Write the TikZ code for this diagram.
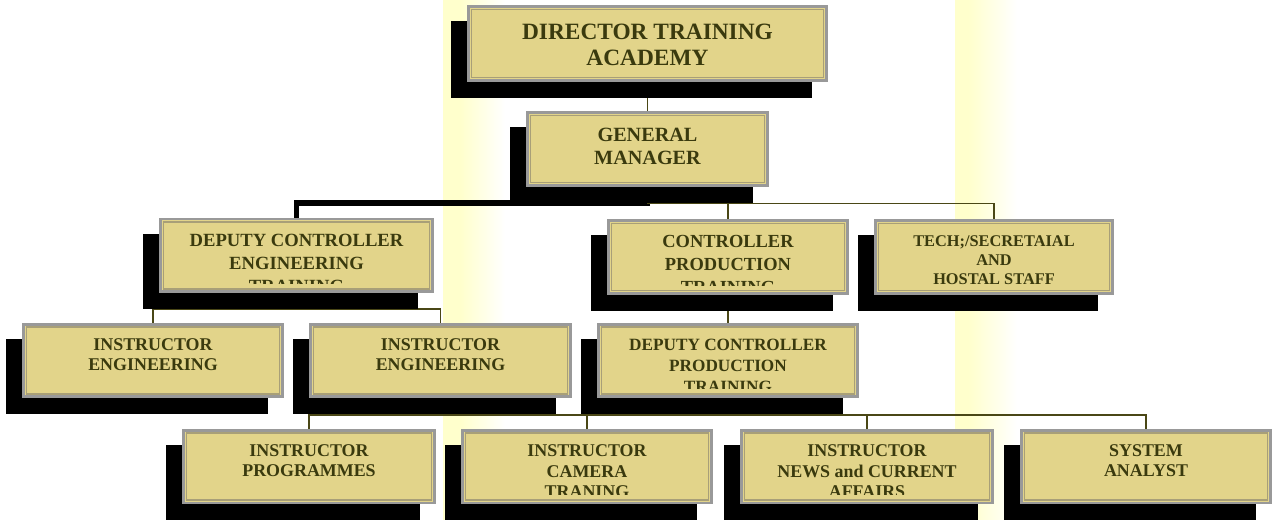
\documentclass[tikz,border=0pt]{standalone}
\usepackage{fontspec}
\setmainfont{Liberation Serif}
\usetikzlibrary{shadows, backgrounds}

\definecolor{boxfill}{HTML}{E2D48A}
\definecolor{boxgray}{HTML}{999999}
\definecolor{innergray}{HTML}{A89F78}
\definecolor{inktext}{HTML}{3A3A0E}
\definecolor{linkolive}{HTML}{4A4716}
\definecolor{paleyellow}{HTML}{FFFFCC}

\tikzset{
	orgtitle/.store in = \orgtitle,
	orgfont/.store in = \orgfont,
	orgtop/.store in = \orgtop,
	orgfont = \fontsize{10.2}{11.3}\selectfont,
	orgtop = 0.27cm,
	orgtext/.style = {anchor = north, align = center, inner sep = 0pt,
		minimum width = 0pt, minimum height = 0pt, text = inktext,
		font = \bfseries\orgfont},
	innerline/.style = {draw = innergray, line width = 0.6pt},
	orgbox/.style = {draw = boxgray, line width = 1.7pt, fill = boxfill,
		minimum height = 1.46cm, inner sep = 0pt,
		drop shadow = {shadow xshift = -0.32cm, shadow yshift = -0.32cm,
			fill = black, draw = black, opacity = 1},
		path picture = {
			\draw [innerline] ([shift = {(0.06cm, 0.06cm)}] path picture bounding box.south west)
				rectangle ([shift = {(-0.06cm, -0.06cm)}] path picture bounding box.north east);
			\clip ([shift = {(0.1cm, 0.16cm)}] path picture bounding box.south west)
				rectangle ([shift = {(-0.1cm, -0.1cm)}] path picture bounding box.north east);
			\node [orgtext] at ([yshift = -\orgtop] path picture bounding box.north) {\orgtitle};
		}},
	link/.style = {draw = linkolive, line width = 1.1pt},
	heavylink/.style = {draw = black, line width = 3.4pt}
}

\begin{document}
\begin{tikzpicture}[x = 0.02cm, y = -0.02cm]

\useasboundingbox (0, 0) rectangle (1282, 520);

% Director and general manager

\node [orgbox, minimum width = 7.16cm, minimum height = 1.48cm, orgtop = 0.33cm,
	orgfont = \fontsize{13.3}{14.7}\selectfont,
	orgtitle = {DIRECTOR TRAINING\\ACADEMY}] (director) at (647.5, 43.5) {};
\node [orgbox, minimum width = 4.8cm, orgtop = 0.29cm,
	orgfont = \fontsize{11.5}{13}\selectfont,
	orgtitle = {GENERAL\\MANAGER}] (manager) at (647.5, 149) {};

% Second row

\node [orgbox, minimum width = 5.44cm, orgfont = \fontsize{10.6}{13}\selectfont,
	orgtitle = {DEPUTY CONTROLLER\\ENGINEERING\\TRAINING}] (depeng) at (296.5, 255.5) {};
\node [orgbox, minimum width = 4.78cm, orgfont = \fontsize{10.5}{13}\selectfont,
	orgtitle = {CONTROLLER\\PRODUCTION\\TRAINING}] (conprod) at (728, 257) {};
\node [orgbox, minimum width = 4.74cm, orgfont = \fontsize{9.3}{11}\selectfont,
	orgtitle = {TECH;/SECRETAIAL\\AND\\HOSTAL STAFF}] (techstaff) at (994, 257) {};

% Third row

\node [orgbox, minimum width = 5.18cm,
	orgtitle = {INSTRUCTOR\\ENGINEERING}] (insteng1) at (153, 360.5) {};
\node [orgbox, minimum width = 5.2cm,
	orgtitle = {INSTRUCTOR\\ENGINEERING}] (insteng2) at (440.5, 360.5) {};
\node [orgbox, minimum width = 5.18cm, orgfont = \fontsize{9.8}{11.9}\selectfont,
	orgtitle = {DEPUTY CONTROLLER\\PRODUCTION\\TRAINING}] (depprod) at (728, 360.5) {};

% Fourth row

\node [orgbox, minimum width = 5.02cm,
	orgtitle = {INSTRUCTOR\\PROGRAMMES}] (instprog) at (309, 466.5) {};
\node [orgbox, minimum width = 4.98cm, orgfont = \fontsize{10.2}{11.5}\selectfont,
	orgtitle = {INSTRUCTOR\\CAMERA\\TRANING}] (instcam) at (587, 466.5) {};
\node [orgbox, minimum width = 5.02cm, orgfont = \fontsize{10.2}{11.5}\selectfont,
	orgtitle = {INSTRUCTOR\\NEWS and CURRENT\\AFFAIRS}] (instnews) at (867, 466.5) {};
\node [orgbox, minimum width = 4.98cm,
	orgtitle = {SYSTEM\\ANALYST}] (sysanalyst) at (1146, 466.5) {};

\begin{scope}[on background layer]

	% Pale stripes behind the chart

	\fill [paleyellow] (443, 0) rectangle (460, 520);
	\shade [left color = paleyellow, right color = white] (460, 0) rectangle (505, 520);
	\fill [paleyellow] (955, 0) rectangle (968, 520);
	\shade [left color = paleyellow, right color = white] (968, 0) rectangle (1017, 520);

	% Connectors

	\draw [link] (director) -- (manager);
	\draw [heavylink] (manager.south) -- ++(0, 16.5) -| (depeng.north);
	\draw [link] (manager.south) -- ++(0, 16.5) -| (conprod.north);
	\draw [link] (manager.south) -- ++(0, 16.5) -| (techstaff.north);

	\draw [link] (depeng.south) -- ++(0, 15.5) -| (insteng1.north);
	\draw [link] (depeng.south) -- ++(0, 15.5) -| (insteng2.north);
	\draw [link] (conprod) -- (depprod);

	\draw [link] (depprod.south) -- ++(0, 16.5) -| (instprog.north);
	\draw [link] (depprod.south) -- ++(0, 16.5) -| (instcam.north);
	\draw [link] (depprod.south) -- ++(0, 16.5) -| (instnews.north);
	\draw [link] (depprod.south) -- ++(0, 16.5) -| (sysanalyst.north);

\end{scope}

\end{tikzpicture}
\end{document}
